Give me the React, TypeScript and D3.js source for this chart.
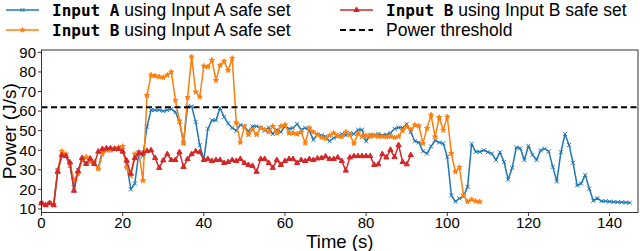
import React from 'react';
import * as d3 from 'd3';

// power readings, one sample per second (J/s)
const inputAUsingA = [
  13, 12, 13, 12, 30, 37, 37, 32, 21, 30,
  35, 33, 35, 33, 31, 39.5, 40, 40.5, 40.5, 40.5,
  40, 33, 20, 23, 39, 37, 52, 60.5, 60.5, 60.5,
  60, 60.5, 61, 59.6, 54.5, 44, 62.4, 62.4, 54.5, 42.6,
  35, 51, 55.3, 55.3, 61.6, 57, 53.7, 51.4, 50, 53,
  52.2, 49.6, 52.2, 52.2, 51.4, 50, 51.6, 48.3, 50.5, 49.3,
  52.2, 51, 51.4, 53.4, 50.5, 51.4, 50, 45.4, 48, 47.6,
  47, 44.6, 46.3, 47, 48.3, 47.6, 48.8, 48.3, 50.5, 50.5,
  44.6, 48, 47.6, 48.3, 47.6, 48, 48.8, 51, 51.6, 51.4,
  53.4, 49.3, 44.6, 44, 39.5, 38.3, 42, 45, 44, 43.5,
  36.7, 17, 13.8, 15.4, 16.3, 21.3, 43.3, 39.2, 39.2, 40,
  39, 38.3, 35, 39, 34, 25, 31, 41.4, 41, 35,
  42.3, 37.7, 35, 40, 40.8, 39.4, 31.5, 24, 39, 48.3,
  42.7, 33.6, 22, 23, 27.4, 20.3, 14.2, 15.5, 14, 14,
  13.8, 13.6, 13.5, 13.4, 13.3, 13.2,
];

const inputBUsingA = [
  13, 12, 13, 12, 30, 39.5, 38, 33, 24.8, 28,
  35, 36.5, 34, 34, 30.4, 38, 40, 40, 41, 41.5,
  42, 31, 27, 38, 39, 24.5, 68, 78.4, 78, 77.5,
  77.2, 78.4, 80, 65.5, 55, 43.5, 67, 87.7, 69.8, 67.2,
  83, 82.6, 86, 75.7, 83.3, 85.4, 80.8, 87, 54, 44,
  52.2, 48, 50.5, 48, 51.4, 50.5, 49.3, 52.2, 48.8, 52.2,
  53, 48.8, 48.8, 48.3, 49.3, 43.7, 51.4, 49.3, 48, 46.6,
  46, 47.6, 48.8, 47.6, 47, 49.3, 48, 43.5, 48.5, 47,
  47.5, 47, 47.5, 47, 47, 46.8, 47, 46.5, 47, 50,
  52, 50.5, 52.9, 52.4, 43.5, 51.2, 58, 46.9, 56.8, 50.3,
  57.1, 38.4, 29, 31.3, 17.1, 13.7, 14.8, 14, 13.7,
];

const inputBUsingB = [
  13, 12, 13, 12, 29, 37.5, 37, 33.8, 19.3, 29.3,
  36, 33, 35.7, 33, 39.3, 40.6, 41, 41, 40.6, 40.6,
  39.3, 34.7, 28, 36, 38.4, 38.4, 39.6, 40, 36, 31,
  34.8, 38, 35, 35, 39, 31.5, 35.5, 38, 39.5, 39,
  35, 35.5, 34.5, 35, 35, 33.5, 34, 35, 34.5, 35.5,
  33.5, 32.5, 32, 29, 35.5, 35.5, 33.5, 31, 35, 32.5,
  34.5, 35.5, 35.5, 33.5, 35, 34.5, 35.5, 35, 35.8, 36,
  36.8, 35.5, 35.5, 36.3, 34.5, 29.6, 36.3, 37, 37, 37,
  37, 37, 32.5, 32.8, 38, 36.3, 40.2, 36.5, 42.6, 34,
  32.8, 37.5,
];

const powerThreshold = 62;
const sampleStep = 1; // seconds between samples

const xTicks = [0, 20, 40, 60, 80, 100, 120, 140];
const yTicks = [10, 20, 30, 40, 50, 60, 70, 80, 90];

const blue = '#1f77b4';
const orange = '#ff7f0e';
const red = '#d62728';

const W = 640;
const H = 251;
const plot = { left: 41.5, right: 638, top: 50, bottom: 212.5 };

const x = d3.scaleLinear().domain([0, 147]).range([plot.left, plot.right]);
const y = d3.scaleLinear().domain([8.2, 91.2]).range([plot.bottom, plot.top]);

const toPoints = (vals: number[]) => vals.map((v, i) => [i * sampleStep, v] as [number, number]);

const line = d3
  .line<[number, number]>()
  .x((d) => x(d[0]))
  .y((d) => y(d[1]));

const crossPath = 'M-2,-2L2,2M-2,2L2,-2';
const starPath = d3.symbol(d3.symbolStar, 8)() as string;
const triPath = d3.symbol(d3.symbolTriangle, 12)() as string;

type Series = { vals: number[]; color: string; marker: string; filled: boolean };

const series: Series[] = [
  { vals: inputAUsingA, color: blue, marker: crossPath, filled: false },
  { vals: inputBUsingA, color: orange, marker: starPath, filled: true },
  { vals: inputBUsingB, color: red, marker: triPath, filled: true },
];

const sans = 'Liberation Sans, Arial, sans-serif';
const mono = 'DejaVu Sans Mono, monospace';

const LegendEntry = ({ lx, ly, s, code, rest }: { lx: number; ly: number; s?: Series; code?: string; rest: string }) => (
  <g transform={`translate(${lx},${ly})`}>
    {s ? (
      <>
        <line x1={0} x2={33} y1={0} y2={0} stroke={s.color} strokeWidth={1.5} />
        <path
          d={s.marker}
          transform="translate(16.5,0)"
          fill={s.filled ? s.color : 'none'}
          stroke={s.color}
          strokeWidth={1}
        />
      </>
    ) : (
      <line x1={0} x2={33} y1={0} y2={0} stroke="#000" strokeWidth={2} strokeDasharray="6,3.5" />
    )}
    <text x={46} y={0} dy="0.36em" fontFamily={sans} fontSize={17.5} fill="#000">
      {code ? (
        <tspan fontFamily={mono} fontSize={16} fontWeight={600}>
          {code}
        </tspan>
      ) : null}
      {rest}
    </text>
  </g>
);

export default function App() {
  return (
    <svg
      width={W}
      height={H}
      viewBox={`0 0 ${W} ${H}`}
      style={{ position: 'absolute', left: 0, top: 0, background: '#fff' }}
    >
      {/* data */}
      {series.map((s, k) => {
        const pts = toPoints(s.vals);
        return (
          <g key={k}>
            <path d={line(pts) ?? ''} fill="none" stroke={s.color} strokeWidth={1.5} strokeLinejoin="round" />
            {pts.map((p, i) => (
              <path
                key={i}
                d={s.marker}
                transform={`translate(${x(p[0])},${y(p[1])})`}
                fill={s.filled ? s.color : 'none'}
                stroke={s.color}
                strokeWidth={1}
              />
            ))}
          </g>
        );
      })}
      <line
        x1={plot.left}
        x2={plot.right}
        y1={y(powerThreshold)}
        y2={y(powerThreshold)}
        stroke="#000"
        strokeWidth={2}
        strokeDasharray="6,3.5"
      />

      {/* frame */}
      <rect
        x={plot.left}
        y={plot.top}
        width={plot.right - plot.left}
        height={plot.bottom - plot.top}
        fill="none"
        stroke="#333"
        strokeWidth={1}
      />

      {/* x axis */}
      {xTicks.map((t) => (
        <g key={t} transform={`translate(${x(t)},0)`}>
          <line y1={plot.bottom} y2={plot.bottom + 3.5} stroke="#333" />
          <text y={228} textAnchor="middle" fontFamily={sans} fontSize={15} fill="#000">
            {t}
          </text>
        </g>
      ))}
      <text x={(plot.left + plot.right) / 2} y={248} textAnchor="middle" fontFamily={sans} fontSize={18.5} fill="#000">
        Time (s)
      </text>

      {/* y axis */}
      {yTicks.map((t) => (
        <g key={t} transform={`translate(0,${y(t)})`}>
          <line x1={plot.left - 3.5} x2={plot.left} stroke="#333" />
          <text x={plot.left - 5.5} dy="0.36em" textAnchor="end" fontFamily={sans} fontSize={15} fill="#000">
            {t}
          </text>
        </g>
      ))}
      <text
        transform={`translate(16,${(plot.top + plot.bottom) / 2}) rotate(-90)`}
        textAnchor="middle"
        fontFamily={sans}
        fontSize={19}
        fill="#000"
      >
        Power (J/s)
      </text>

      {/* legend */}
      <LegendEntry lx={6} ly={10} s={series[0]} code="Input A" rest=" using Input A safe set" />
      <LegendEntry lx={6} ly={30} s={series[1]} code="Input B" rest=" using Input A safe set" />
      <LegendEntry lx={340} ly={10} s={series[2]} code="Input B" rest=" using Input B safe set" />
      <LegendEntry lx={340} ly={30} rest="Power threshold" />
    </svg>
  );
}
